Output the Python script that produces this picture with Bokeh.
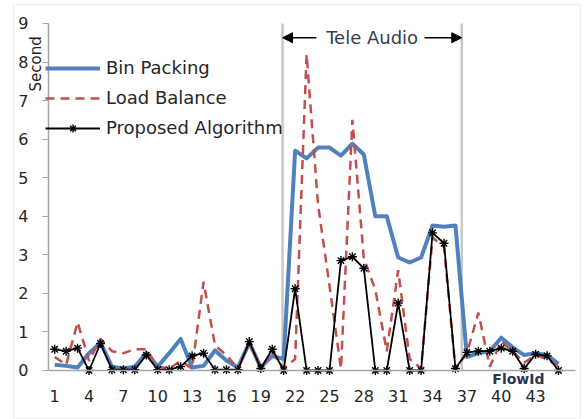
import math

from bokeh.plotting import figure
from bokeh.models import (Range1d, FixedTicker, Arrow, NormalHead, Label,
                          Legend, LegendItem, BoxAnnotation)
from bokeh.embed import file_html
from bokeh.resources import INLINE

# Flow identifiers and per-flow delay (seconds) for each scheduling approach
flow_ids = list(range(1, 46))

bin_packing = [0.15, 0.12, 0.08, 0.45, 0.72, 0.10, 0.05, 0.10, 0.45, 0.10,
               0.45, 0.82, 0.08, 0.12, 0.52, 0.26, 0.08, 0.72, 0.08, 0.38,
               0.30, 5.70, 5.50, 5.78, 5.78, 5.57, 5.88, 5.60, 4.00, 4.00,
               2.93, 2.80, 2.93, 3.76, 3.73, 3.76, 0.35, 0.45, 0.50, 0.85,
               0.60, 0.40, 0.45, 0.40, 0.17]

load_balance = [0.35, 0.15, 1.25, 0.25, 0.82, 0.50, 0.45, 0.55, 0.55, 0.10,
                0.05, 0.25, 0.05, 2.30, 0.65, 0.40, 0.05, 0.70, 0.05, 0.48,
                0.05, 0.30, 8.20, 4.30, 2.20, 0.05, 6.50, 2.90, 2.10, 0.50,
                2.60, 0.30, 0.05, 3.45, 3.20, 0.05, 0.45, 1.50, 0.10, 0.75,
                0.50, 0.20, 0.40, 0.30, 0.10]

proposed_algorithm = [0.55, 0.50, 0.58, 0.00, 0.70, 0.02, 0.02, 0.02, 0.40, 0.02,
                      0.02, 0.10, 0.38, 0.45, 0.02, 0.02, 0.02, 0.75, 0.05, 0.55,
                      0.00, 2.12, 0.00, 0.00, 0.00, 2.85, 2.95, 2.65, 0.00, 0.00,
                      1.75, 0.00, 0.00, 3.57, 3.30, 0.05, 0.47, 0.50, 0.50, 0.58,
                      0.50, 0.05, 0.42, 0.38, 0.00]

x_ticks = flow_ids[::3]
y_ticks = list(range(0, 10))

# Category axis extent and value axis extent
x_min, x_max = 0.46, 46.49
y_min, y_max = 0, 9

# Tele Audio flow block (category positions of the bracket)
tele_start = 20.9
tele_end = 36.55
tele_label = "Tele Audio"

FONT = "DejaVu Sans"
TEXT = "#262626"
AXIS = "#A6A6A6"

# The plotting frame fills the canvas; the axes are pinned to the data origin
# so that the titles around them can sit inside the frame.
p = figure(width=584, height=419, output_backend="svg", toolbar_location=None,
           title=None,
           x_range=Range1d(-3.732, 47.27), y_range=Range1d(-1.2707, 9.595),
           min_border_left=0, min_border_right=0,
           min_border_top=0, min_border_bottom=0)

p.background_fill_color = "white"
p.border_fill_color = "white"
p.outline_line_color = None
p.grid.visible = False

# Axes
p.xaxis.ticker = FixedTicker(ticks=x_ticks)
p.yaxis.ticker = FixedTicker(ticks=y_ticks)
p.xaxis.fixed_location = y_min
p.yaxis.fixed_location = x_min
p.xaxis.bounds = (x_min, x_max)
p.yaxis.bounds = (y_min, y_max)
for ax in (p.xaxis, p.yaxis):
    ax.axis_line_color = AXIS
    ax.axis_line_width = 1.5
    ax.major_tick_line_color = AXIS
    ax.major_tick_line_width = 1.2
    ax.minor_tick_line_color = None
    ax.major_label_text_font = FONT
    ax.major_label_text_font_size = "16px"
    ax.major_label_text_color = TEXT
p.xaxis.major_tick_out = 0
p.xaxis.major_tick_in = 0
p.xaxis.major_label_standoff = 20
p.yaxis.major_tick_out = 6
p.yaxis.major_tick_in = 0
p.yaxis.major_label_standoff = 14

# Tele Audio bracket: boundary rules
p.segment(x0=[tele_start, tele_end], y0=[y_min, y_min],
          x1=[tele_start, tele_end], y1=[y_max, y_max],
          line_color="#C8C8C8", line_width=2.5)

# Series
r_bin = p.line(flow_ids, bin_packing, line_color="#4F81BD", line_width=4,
               line_join="round")
r_lb = p.line(flow_ids, load_balance, line_color="#C0504D", line_width=2.5,
              line_dash="9 6")
r_pa = p.line(flow_ids, proposed_algorithm, line_color="black", line_width=1.8,
              line_join="round")
r_pa_m = p.scatter(flow_ids, proposed_algorithm, marker="asterisk", size=9,
                   line_color="black", line_width=1.4)

legend = Legend(items=[LegendItem(label="Bin Packing", renderers=[r_bin]),
                       LegendItem(label="Load Balance", renderers=[r_lb]),
                       LegendItem(label="Proposed Algorithm", renderers=[r_pa, r_pa_m])],
                location=(45, 281), orientation="vertical",
                margin=0, padding=0, spacing=9,
                glyph_width=55, glyph_height=20, label_height=20,
                label_standoff=6,
                label_text_font=FONT, label_text_font_size="18px",
                label_text_color=TEXT,
                border_line_color=None, background_fill_alpha=0)
p.add_layout(legend)

# Tele Audio bracket: arrows and caption
bracket_y = 8.63
p.add_layout(Arrow(x_start=23.85, y_start=bracket_y, x_end=tele_start, y_end=bracket_y,
                   line_color="black", line_width=1.5,
                   end=NormalHead(size=10, fill_color="black", line_color="black")))
p.add_layout(Arrow(x_start=33.3, y_start=bracket_y, x_end=tele_end, y_end=bracket_y,
                   line_color="black", line_width=1.5,
                   end=NormalHead(size=10, fill_color="black", line_color="black")))
p.add_layout(Label(x=(tele_start + tele_end) / 2, y=bracket_y, text=tele_label,
                   text_align="center", text_baseline="middle",
                   text_font=FONT, text_font_size="18px", text_color="#333F50"))

# Axis titles
p.add_layout(Label(x=-0.59, y=7.95, text="Second", angle=math.pi / 2,
                   text_align="center", text_baseline="middle",
                   text_font=FONT, text_font_size="15px", text_color=TEXT))
p.add_layout(Label(x=41.5, y=-0.21, text="FlowId",
                   text_align="center", text_baseline="middle",
                   text_font=FONT, text_font_size="14px", text_font_style="bold",
                   text_color="#2B3550"))

# Chart frame
p.add_layout(BoxAnnotation(left=13, right=580, top=4, bottom=418,
                           left_units="canvas", right_units="canvas",
                           top_units="canvas", bottom_units="canvas",
                           fill_alpha=0, line_color="#D0D0D0", line_width=1.5))

open("out.html", "w").write(file_html(p, INLINE))
